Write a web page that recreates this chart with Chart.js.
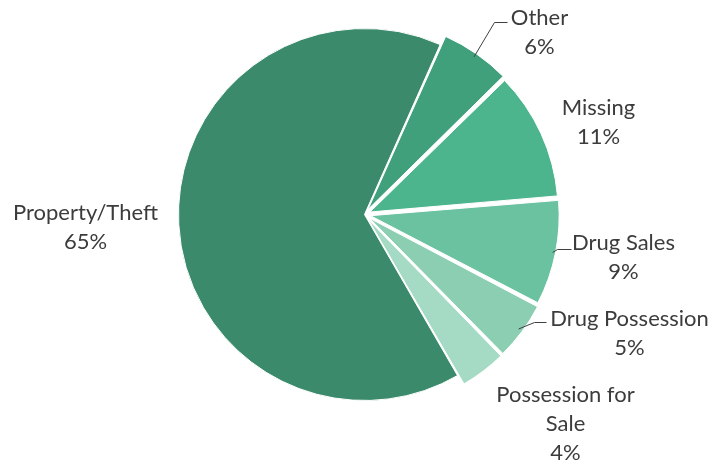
<!DOCTYPE html>
<html>
<head>
<meta charset="utf-8">
<script src="https://cdn.jsdelivr.net/npm/chart.js@4/dist/chart.umd.min.js"></script>
<style>
  html, body { margin: 0; padding: 0; background: #ffffff; }
  #wrap { width: 712px; height: 464px; }
</style>
</head>
<body>
<div id="wrap"><canvas id="pie" width="712" height="464"></canvas></div>
<script>
// Offence categories, clockwise from the top-right
const categories = ['Other', 'Missing', 'Drug Sales', 'Drug Possession', 'Possession for Sale', 'Property/Theft'];
const shares = [6, 11, 9, 5, 4, 65];
const labelLines = [
  ['Other', '6%'],
  ['Missing', '11%'],
  ['Drug Sales', '9%'],
  ['Drug Possession', '5%'],
  ['Possession for', 'Sale', '4%'],
  ['Property/Theft', '65%']
];
const sliceColors = ['#41a07c', '#4db58d', '#6bc2a1', '#8bceb2', '#a5dac4', '#3a8a6b'];
// The smaller categories are pulled out from the pie
const explode = [24, 24, 24, 24, 24, 0];

// Label placement relative to the pie centre (x, y of first line), and leader elbows
const labelLayout = [
  { dx: 175, dy: -197, leader: { ex: 130, ey: -192, hx: 143 } },
  { dx: 234, dy: -107 },
  { dx: 259, dy: 28, leader: { ex: 193, ey: 35, hx: 207 } },
  { dx: 265, dy: 104, leader: { ex: 170, ey: 108, hx: 182 } },
  { dx: 201, dy: 180 },
  { dx: -279, dy: -2 }
];

const pieLabels = {
  id: 'pieLabels',
  afterDatasetsDraw(chart) {
    const ctx = chart.ctx;
    const arcs = chart.getDatasetMeta(0).data;
    const base = arcs[arcs.length - 1];
    const cx = base.x, cy = base.y;
    ctx.save();
    ctx.font = '22px Lato, "Open Sans", sans-serif';
    ctx.fillStyle = '#3c3c3c';
    ctx.textAlign = 'center';
    ctx.textBaseline = 'middle';
    arcs.forEach((arc, i) => {
      const lay = labelLayout[i];
      if (lay.leader) {
        const mid = (arc.startAngle + arc.endAngle) / 2;
        const reach = arc.outerRadius + explode[i] / 4;
        const sx = arc.x + Math.cos(mid) * reach;
        const sy = arc.y + Math.sin(mid) * reach;
        ctx.beginPath();
        ctx.strokeStyle = '#404040';
        ctx.lineWidth = 1;
        ctx.moveTo(sx, sy);
        ctx.lineTo(cx + lay.leader.ex, cy + lay.leader.ey);
        ctx.lineTo(cx + lay.leader.hx, cy + lay.leader.ey);
        ctx.stroke();
      }
      labelLines[i].forEach((t, k) => {
        ctx.fillText(t, cx + lay.dx, cy + lay.dy + k * 29);
      });
    });
    ctx.restore();
  }
};

new Chart(document.getElementById('pie'), {
  type: 'pie',
  data: {
    labels: categories,
    datasets: [{
      data: shares,
      backgroundColor: sliceColors,
      borderColor: '#ffffff',
      borderWidth: 1,
      offset: explode
    }]
  },
  options: {
    responsive: false,
    animation: false,
    rotation: 24,
    layout: { padding: { left: 166, right: 149, top: 16, bottom: 51 } },
    plugins: {
      legend: { display: false },
      tooltip: { enabled: false }
    }
  },
  plugins: [pieLabels]
});
</script>
</body>
</html>
